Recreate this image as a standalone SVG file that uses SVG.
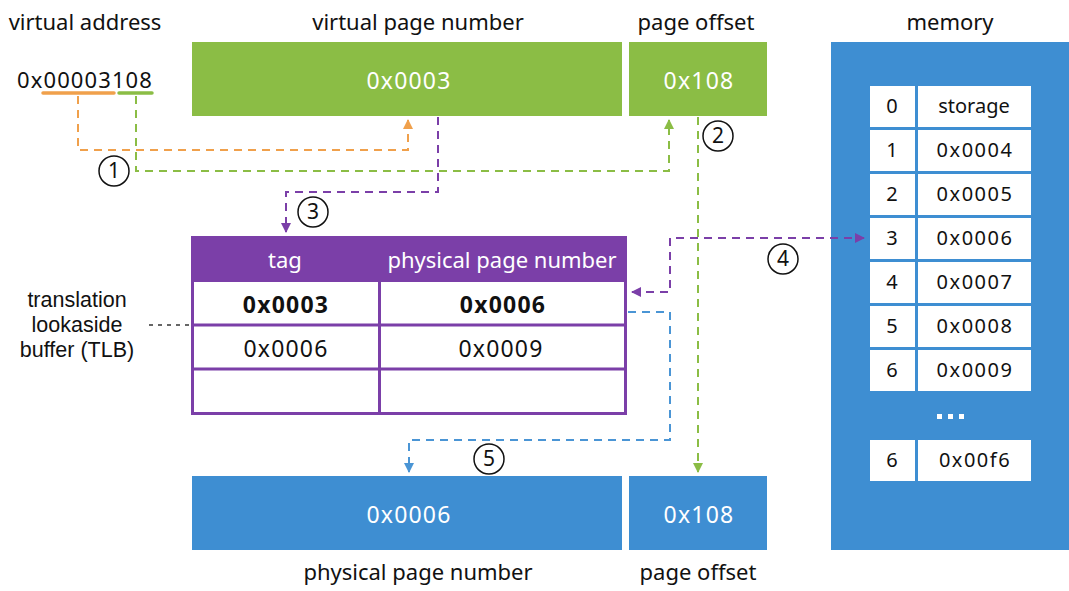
<svg xmlns="http://www.w3.org/2000/svg" width="1069" height="591" viewBox="0 0 1069 591">
<defs>
<style>
text{font-family:"Noto Sans","Liberation Sans",sans-serif;font-size:22px;fill:#111;text-anchor:middle;}
.w{fill:#fff;}
.b{font-weight:bold;}
.n{font-size:23px;letter-spacing:1.2px;}
.m{font-size:20px;}
.mn{font-size:20px;letter-spacing:1.5px;}
.tl{font-family:"Liberation Sans","Noto Sans",sans-serif;font-size:21.5px;}
.green{fill:#8bbd45;}
.blue{fill:#3e8ed2;}
.cell{fill:#fff;}
.d{fill:none;stroke-width:2;stroke-dasharray:8 6;}
.circ{fill:#fff;stroke:#111;stroke-width:1.5;}
.cn{font-size:21px;}
</style>
<marker id="ao" viewBox="0 0 10 10" refX="9" refY="5" markerWidth="5" markerHeight="5" orient="auto"><path d="M0,0L10,5L0,10z" fill="#f0a04b"/></marker>
<marker id="ag" viewBox="0 0 10 10" refX="9" refY="5" markerWidth="5" markerHeight="5" orient="auto"><path d="M0,0L10,5L0,10z" fill="#8bbd45"/></marker>
<marker id="ap" viewBox="0 0 10 10" refX="9" refY="5" markerWidth="5" markerHeight="5" orient="auto-start-reverse"><path d="M0,0L10,5L0,10z" fill="#7b3fa8"/></marker>
<marker id="ab" viewBox="0 0 10 10" refX="9" refY="5" markerWidth="5" markerHeight="5" orient="auto"><path d="M0,0L10,5L0,10z" fill="#4a95d5"/></marker>
</defs>

<g id="labels">
<text x="85" y="30">virtual address</text>
<text x="418" y="30">virtual page number</text>
<text x="696" y="30">page offset</text>
<text x="950" y="30">memory</text>
<text x="418" y="580">physical page number</text>
<text x="698" y="580">page offset</text>
<text class="tl" x="77" y="307">translation</text>
<text class="tl" x="77" y="332">lookaside</text>
<text class="tl" x="77" y="357">buffer (TLB)</text>
</g>

<g id="vaddr">
<text x="85" y="88" style="letter-spacing:1.1px">0x00003108</text>
<line x1="43" y1="93" x2="114" y2="93" stroke="#f0a04b" stroke-width="3.5" stroke-linecap="round"/>
<line x1="119" y1="93" x2="152" y2="93" stroke="#8bbd45" stroke-width="3.5" stroke-linecap="round"/>
</g>

<g id="vpn"><rect class="green" x="192" y="42" width="430" height="74"/><text class="w n" x="409" y="89">0x0003</text></g>
<g id="voff"><rect class="green" x="629" y="42" width="138" height="74"/><text class="w n" x="699" y="89">0x108</text></g>
<g id="ppn"><rect class="blue" x="192" y="476" width="430" height="74"/><text class="w n" x="409" y="523">0x0006</text></g>
<g id="poff"><rect class="blue" x="629" y="476" width="138" height="74"/><text class="w n" x="699" y="523">0x108</text></g>

<g id="tlb">
<rect x="191" y="236" width="436" height="46" fill="#7b3fa8"/>
<rect x="192.5" y="237.5" width="433" height="176" fill="none" stroke="#7b3fa8" stroke-width="3"/>
<line x1="192" y1="325" x2="626" y2="325" stroke="#7b3fa8" stroke-width="3"/>
<line x1="192" y1="369" x2="626" y2="369" stroke="#7b3fa8" stroke-width="3"/>
<line x1="379.5" y1="282" x2="379.5" y2="413" stroke="#7b3fa8" stroke-width="3"/>
<text class="w" x="285" y="268">tag</text>
<text class="w" x="502" y="268">physical page number</text>
<text class="b n" x="286" y="313">0x0003</text>
<text class="b n" x="503" y="313">0x0006</text>
<text class="n" x="286" y="357">0x0006</text>
<text class="n" x="501" y="357">0x0009</text>
</g>

<g id="memory">
<rect class="blue" x="831" y="42" width="238" height="508"/>
<g id="m0"><rect class="cell" x="870" y="86" width="45" height="41"/><rect class="cell" x="918" y="86" width="113" height="41"/><text class="m" x="892" y="113">0</text><text class="m" x="974" y="113">storage</text></g>
<g id="m1"><rect class="cell" x="870" y="130" width="45" height="41"/><rect class="cell" x="918" y="130" width="113" height="41"/><text class="m" x="892" y="157">1</text><text class="mn" x="975" y="157">0x0004</text></g>
<g id="m2"><rect class="cell" x="870" y="174" width="45" height="41"/><rect class="cell" x="918" y="174" width="113" height="41"/><text class="m" x="892" y="201">2</text><text class="mn" x="975" y="201">0x0005</text></g>
<g id="m3"><rect class="cell" x="870" y="218" width="45" height="41"/><rect class="cell" x="918" y="218" width="113" height="41"/><text class="m" x="892" y="245">3</text><text class="mn" x="975" y="245">0x0006</text></g>
<g id="m4"><rect class="cell" x="870" y="262" width="45" height="41"/><rect class="cell" x="918" y="262" width="113" height="41"/><text class="m" x="892" y="289">4</text><text class="mn" x="975" y="289">0x0007</text></g>
<g id="m5"><rect class="cell" x="870" y="306" width="45" height="41"/><rect class="cell" x="918" y="306" width="113" height="41"/><text class="m" x="892" y="333">5</text><text class="mn" x="975" y="333">0x0008</text></g>
<g id="m6"><rect class="cell" x="870" y="350" width="45" height="41"/><rect class="cell" x="918" y="350" width="113" height="41"/><text class="m" x="892" y="377">6</text><text class="mn" x="975" y="377">0x0009</text></g>
<g id="mdots"><rect x="937" y="414" width="5" height="5" fill="#fff"/><rect x="948" y="414" width="5" height="5" fill="#fff"/><rect x="959" y="414" width="5" height="5" fill="#fff"/></g>
<g id="mlast"><rect class="cell" x="870" y="440" width="45" height="41"/><rect class="cell" x="918" y="440" width="113" height="41"/><text class="m" x="892" y="467">6</text><text class="mn" x="975" y="467">0x00f6</text></g>
</g>

<g id="connectors">
<path class="d" stroke="#f0a04b" d="M78,96V150H408V120" marker-end="url(#ao)"/>
<path class="d" stroke="#8bbd45" d="M136,96V171H669V120" marker-end="url(#ag)"/>
<path class="d" stroke="#7b3fa8" d="M438,117V192H286V232" marker-end="url(#ap)"/>
<path class="d" stroke="#8bbd45" d="M698,117V472" marker-end="url(#ag)"/>
<path class="d" stroke="#7b3fa8" d="M632,292H670V238H864" marker-start="url(#ap)" marker-end="url(#ap)"/>
<path class="d" stroke="#4a95d5" d="M628,312H670V440H409V472" marker-end="url(#ab)"/>
<path fill="none" stroke="#666" stroke-width="2" stroke-dasharray="4 5" d="M149,325H190"/>
</g>

<g id="steps">
<g id="s1"><circle class="circ" cx="114" cy="171" r="15"/><text class="cn" x="114" y="178">1</text></g>
<g id="s2"><circle class="circ" cx="718" cy="136" r="15"/><text class="cn" x="718" y="143">2</text></g>
<g id="s3"><circle class="circ" cx="313" cy="212" r="15"/><text class="cn" x="313" y="219">3</text></g>
<g id="s4"><circle class="circ" cx="783" cy="259" r="15"/><text class="cn" x="783" y="266">4</text></g>
<g id="s5"><circle class="circ" cx="489" cy="459" r="15"/><text class="cn" x="489" y="466">5</text></g>
</g>
</svg>
